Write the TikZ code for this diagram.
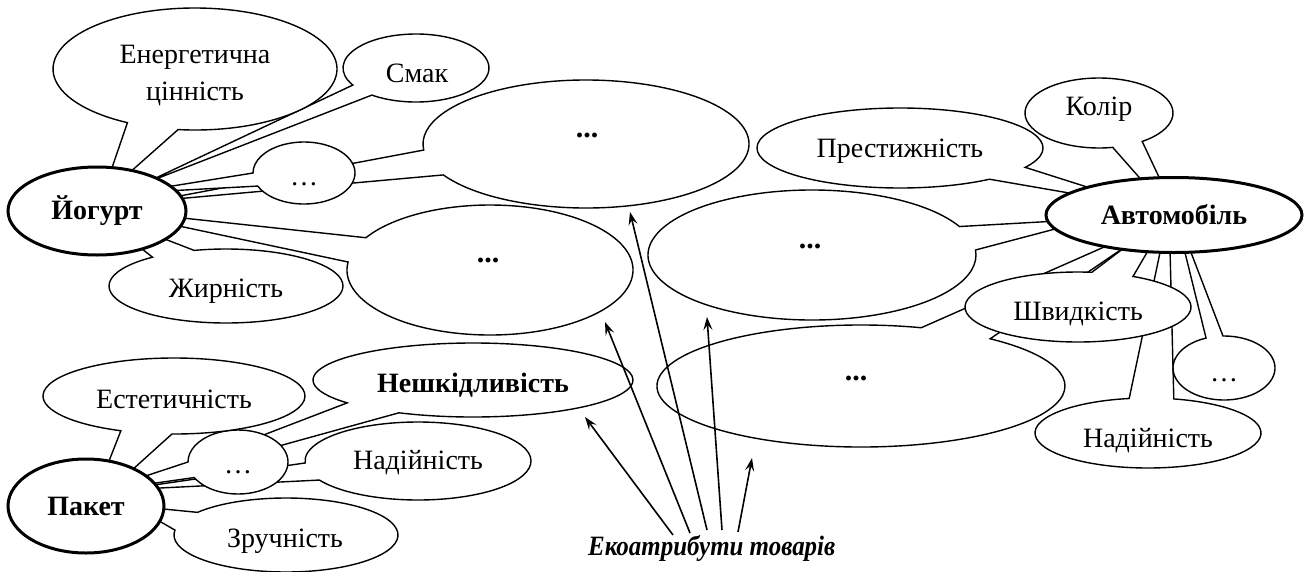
\documentclass[tikz,border=0pt]{standalone}
\usepackage{fontspec}
\setmainfont{Liberation Serif}
\usetikzlibrary{shapes.geometric,arrows.meta}
\tikzset{
  callout/.style={draw=black, fill=white, line width=1.4pt, line join=miter},
  lbl/.style={font=\fontsize{28}{37}\selectfont, align=center, inner sep=0pt, anchor=base},
  bigdots/.style={font=\fontsize{30}{34}\selectfont\bfseries, inner sep=0pt},
  smalldots/.style={font=\fontsize{28}{34}\selectfont, inner sep=0pt},
  mainnode/.style={ellipse, draw=black, fill=white, line width=3pt, inner sep=0pt,
                   font=\fontsize{28}{34}\selectfont\bfseries},
  eco/.style={-{Stealth[length=13pt,width=9pt,inset=5pt]}, line width=1.6pt},
}
% #1 cx, #2 cy, #3 rx, #4 ry, #5,#6 first base point, #7,#8 second base point, #9 tip (pixel coords, y down)
\newcommand\callout[9]{%
  \pgfmathsetmacro\aA{atan2(((#2)-(#6))/(#4),((#5)-(#1))/(#3))}%
  \pgfmathsetmacro\aB{atan2(((#2)-(#8))/(#4),((#7)-(#1))/(#3))}%
  \pgfmathsetmacro\dd{mod((\aA)-(\aB)+540,360)-180}%
  \pgfmathsetmacro\sA{(\dd>0) ? (\aA) : (\aB)}%
  \pgfmathsetmacro\eA{(\sA)+360-abs(\dd)}%
  \filldraw[callout] ({(#1)+(#3)*cos(\sA)},{-(#2)+(#4)*sin(\sA)})
     arc[start angle=\sA, end angle=\eA, x radius=#3, y radius=#4] -- #9 -- cycle;
}
\begin{document}
\begin{tikzpicture}[x=1pt,y=1pt]
\useasboundingbox (0,0) rectangle (1307,-571);

% ---------- Yogurt group ----------
\callout{416}{68}{73}{34}{353}{85}{372}{95}{(143,-184)}
\node[lbl] (smak) at (417,-82) {Смак};
\callout{195}{69}{142}{61}{127}{123}{178}{130}{(102,-197)}
\node[lbl] (ener) at (195,-100) {Енергетична\\цінність};
\callout{586}{144}{163}{64}{425}{150}{443}{175}{(153,-201)}
\node[bigdots] (b1) at (587,-135) {...};
\callout{304}{173}{51}{31}{253}{173}{258}{186}{(129,-193)}
\node[smalldots] (d1) at (304,-184) {…};
\callout{490}{270}{143}{65}{367}{238}{348}{262}{(99,-209)}
\node[bigdots] (b2) at (488,-260) {...};
\callout{226}{286}{117}{37}{152}{257}{192}{248}{(95,-212)}
\node[lbl] (zhyr) at (226,-297) {Жирність};
\node[mainnode, minimum width=178pt, minimum height=88pt] (yog) at (97,-211) {Йогурт};

% ---------- Packet group ----------
\callout{473}{380}{160}{37}{352}{402}{403}{411}{(120,-490)}
\node[lbl, font=\fontsize{28}{36}\selectfont\bfseries] (nesh) at (473,-392) {Нешкідливість};
\callout{418}{461}{113}{39}{303}{463}{330}{478}{(120,-490)}
\node[lbl] (nad1) at (418,-469) {Надійність};
\callout{238}{462}{50}{32}{187}{462}{193}{478}{(100,-491)}
\node[smalldots] (d2) at (238,-472) {…};
\callout{174}{396}{131}{38}{122}{430}{172}{433}{(91,-507)}
\node[lbl] (est) at (174,-408) {Естетичність};
\callout{286}{535}{112}{37}{200}{513}{173}{530}{(133,-506)}
\node[lbl] (zruch) at (285,-547) {Зручність};
\node[mainnode, minimum width=156pt, minimum height=94pt] (pak) at (86,-506) {Пакет};

% ---------- Car group ----------
\callout{1099}{113}{74}{35}{1111}{143}{1137}{138}{(1182,-226)}
\node[lbl] (kol) at (1099,-115) {Колір};
\callout{900}{148}{143}{40}{1023}{167}{986}{178}{(1150,-207)}
\node[lbl] (pres) at (900,-157) {Престижність};
\callout{812}{255}{164}{65}{957}{227}{975}{250}{(1093,-219)}
\node[bigdots] (b3) at (810,-246) {...};
\callout{861}{386}{204}{61}{922}{327}{995}{337}{(1163,-221)}
\node[bigdots] (b4) at (856,-378) {...};
\callout{1148}{433}{113}{35}{1130}{400}{1173}{400}{(1169,-210)}
\node[lbl] (nad2) at (1148,-447) {Надійність};
\callout{1224}{368}{51}{32}{1203}{333}{1223}{337}{(1174,-208)}
\node[smalldots] (d3) at (1224,-380) {…};
\callout{1078}{307}{113}{35}{1092}{272}{1132}{277}{(1170,-213)}
\node[lbl] (shv) at (1078,-320) {Швидкість};
\node[mainnode, minimum width=256pt, minimum height=75pt] (avto) at (1174,-215) {Автомобіль};

% ---------- Eco attributes ----------
\node[font=\fontsize{28}{34}\selectfont\bfseries\itshape, inner sep=0pt, anchor=base west,
      xscale=0.89, transform shape]
  (eco) at (588,-555) {Екоатрибути товарів};
\coordinate (t1) at (673,-535); \coordinate (h1) at (585,-417);
\coordinate (t2) at (690,-533); \coordinate (h2) at (605,-322);
\coordinate (t3) at (707,-530); \coordinate (h3) at (630,-212);
\coordinate (t4) at (722,-530); \coordinate (h4) at (707,-317);
\coordinate (t5) at (738,-532); \coordinate (h5) at (752,-458);
\foreach \i in {1,...,5} { \draw[eco] (t\i) -- (h\i); }
\end{tikzpicture}
\end{document}
